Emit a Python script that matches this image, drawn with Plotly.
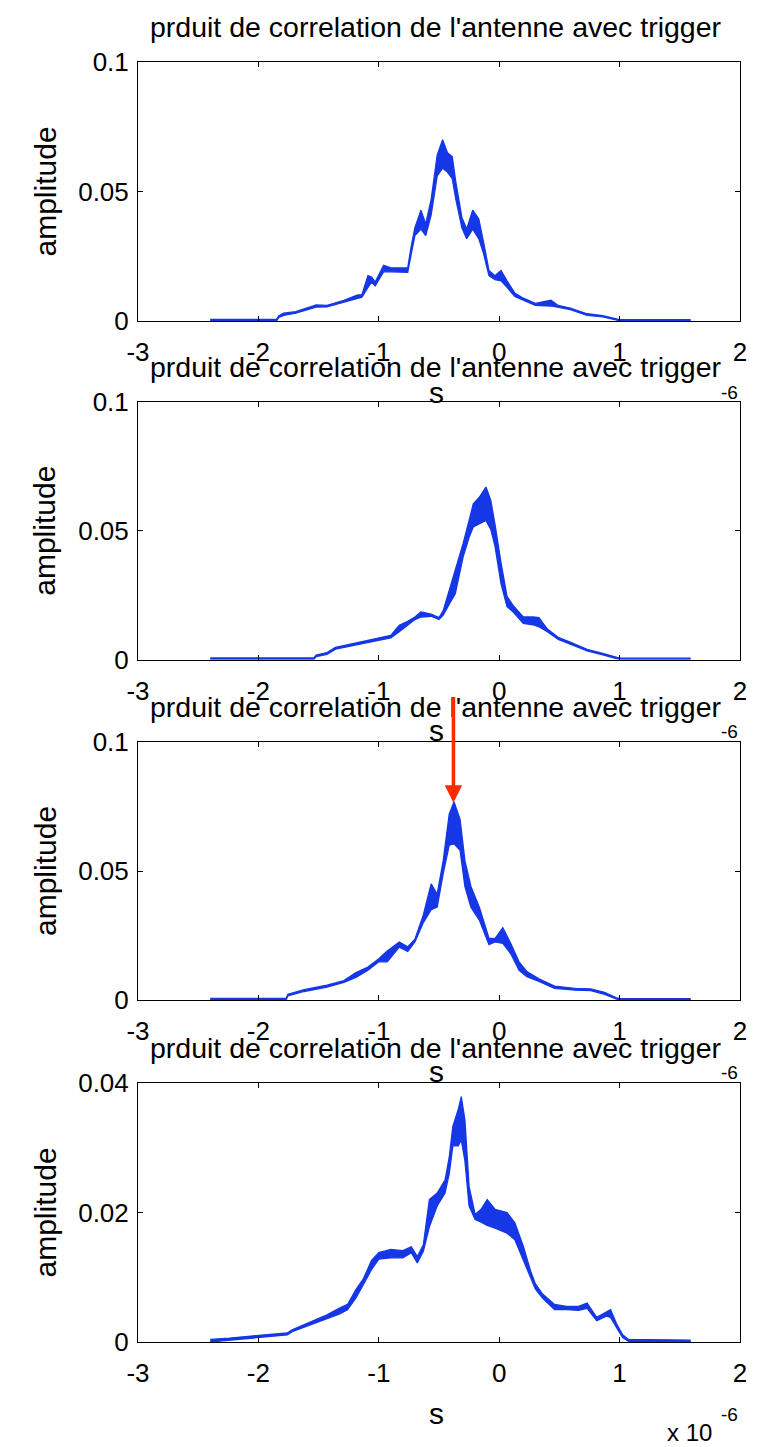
import plotly.graph_objects as go

# ---------------- data (x in units of 1e-6 s) ----------------
title_text = "prduit de correlation de l'antenne avec trigger"
x_tickvals = [-3, -2, -1, 0, 1, 2]
x_ticktext = ["-3", "-2", "-1", "0", "1", "2"]
y_tickvals_a = [0, 0.05, 0.1]
y_ticktext_a = ["0", "0.05", "0.1"]
y_tickvals_b = [0, 0.02, 0.04]
y_ticktext_b = ["0", "0.02", "0.04"]

x1 = [-2.40, -1.85, -1.83, -1.79, -1.69, -1.62, -1.52, -1.43, -1.29, -1.18, -1.14, -1.09, -1.06, -1.03,
      -0.96, -0.90, -0.76, -0.73, -0.70, -0.65, -0.61, -0.565, -0.515, -0.47, -0.43, -0.39, -0.36, -0.31,
      -0.27, -0.22, -0.17, -0.13, -0.085, -0.035, 0.015, 0.065, 0.13, 0.20, 0.30, 0.43, 0.49, 0.59, 0.73,
      0.86, 0.97, 1.00, 1.59]
hi1 = [0.0006, 0.0006, 0.0020, 0.0030, 0.0036, 0.0047, 0.0062, 0.0060, 0.0080, 0.0100, 0.0102, 0.0175,
       0.0170, 0.0150, 0.0215, 0.0205, 0.0205, 0.0290, 0.0360, 0.0428, 0.0375, 0.0470, 0.0640, 0.0700,
       0.0650, 0.0635, 0.0535, 0.0400, 0.0355, 0.0428, 0.0395, 0.0305, 0.0195, 0.0175, 0.0195, 0.0155,
       0.0108, 0.0088, 0.0068, 0.0080, 0.0060, 0.0050, 0.0028, 0.0021, 0.0009, 0.0005, 0.0005]
lo1 = [0, 0, 0.0014, 0.0022, 0.0030, 0.0040, 0.0054, 0.0055, 0.0074, 0.0088, 0.0092, 0.0130, 0.0150,
       0.0135, 0.0190, 0.0190, 0.0188, 0.0260, 0.0330, 0.0355, 0.0330, 0.0410, 0.0560, 0.0590, 0.0575,
       0.0550, 0.0470, 0.0360, 0.0318, 0.0355, 0.0318, 0.0260, 0.0175, 0.0160, 0.0155, 0.0130, 0.0095,
       0.0080, 0.0060, 0.0058, 0.0052, 0.0044, 0.0022, 0.0016, 0.0004, 0, 0]

x2 = [-2.40, -1.54, -1.52, -1.43, -1.36, -1.23, -1.09, -0.96, -0.90, -0.83, -0.76, -0.70, -0.65, -0.565,
      -0.50, -0.465, -0.415, -0.365, -0.30, -0.25, -0.215, -0.165, -0.11, -0.07, -0.035, 0.015, 0.065,
      0.115, 0.20, 0.28, 0.33, 0.40, 0.49, 0.59, 0.73, 0.86, 0.97, 1.00, 1.59]
hi2 = [0.0006, 0.0006, 0.0017, 0.0027, 0.0047, 0.0060, 0.0073, 0.0088, 0.0094, 0.0133, 0.0148, 0.0165,
       0.0185, 0.0176, 0.0163, 0.0190, 0.0270, 0.0345, 0.0450, 0.0540, 0.0605, 0.0630, 0.0670, 0.0618,
       0.0525, 0.0375, 0.0245, 0.0210, 0.0165, 0.0165, 0.0163, 0.0118, 0.0086, 0.0068, 0.0039, 0.0024,
       0.0010, 0.0005, 0.0005]
lo2 = [0, 0, 0.0011, 0.0020, 0.0040, 0.0052, 0.0066, 0.0077, 0.0084, 0.0108, 0.0135, 0.0155, 0.0165,
       0.0168, 0.0155, 0.0172, 0.0215, 0.0255, 0.0398, 0.0475, 0.0515, 0.0528, 0.0540, 0.0505, 0.0440,
       0.0295, 0.0205, 0.0185, 0.0140, 0.0135, 0.0127, 0.0108, 0.0078, 0.0060, 0.0033, 0.0018, 0.0005,
       0, 0]

x3 = [-2.40, -1.77, -1.755, -1.62, -1.43, -1.29, -1.19, -1.09, -1.00, -0.93, -0.83, -0.76, -0.70, -0.63,
      -0.565, -0.515, -0.465, -0.415, -0.375, -0.325, -0.285, -0.235, -0.165, -0.085, -0.035, 0.03,
      0.095, 0.165, 0.23, 0.33, 0.46, 0.63, 0.76, 0.875, 0.97, 1.00, 1.59]
hi3 = [0.0006, 0.0006, 0.0022, 0.0040, 0.0058, 0.0075, 0.0106, 0.0128, 0.0160, 0.0190, 0.0225, 0.0206,
       0.0236, 0.0330, 0.0450, 0.0410, 0.0540, 0.0720, 0.0768, 0.0700, 0.0540, 0.0440, 0.0360, 0.0240,
       0.0238, 0.0280, 0.0220, 0.0148, 0.0110, 0.0082, 0.0054, 0.0045, 0.0043, 0.0030, 0.0009, 0.0005,
       0.0005]
lo3 = [0, 0, 0.0016, 0.0033, 0.0050, 0.0068, 0.0088, 0.0115, 0.0148, 0.0148, 0.0205, 0.0188, 0.0225,
       0.0300, 0.0350, 0.0360, 0.0490, 0.0600, 0.0605, 0.0580, 0.0440, 0.0360, 0.0310, 0.0215, 0.0225,
       0.0220, 0.0180, 0.0115, 0.0090, 0.0072, 0.0045, 0.0038, 0.0036, 0.0022, 0.0004, 0, 0]

x4 = [-2.40, -2.24, -2.02, -1.76, -1.72, -1.62, -1.52, -1.43, -1.33, -1.26, -1.19, -1.13, -1.06, -1.00,
      -0.90, -0.80, -0.73, -0.68, -0.63, -0.58, -0.515, -0.45, -0.415, -0.385, -0.34, -0.315, -0.285,
      -0.25, -0.20, -0.15, -0.10, -0.035, 0.065, 0.13, 0.20, 0.26, 0.30, 0.36, 0.46, 0.56, 0.66, 0.73,
      0.81, 0.89, 0.925, 0.975, 1.025, 1.075, 1.59]
hi4 = [0.0004, 0.0006, 0.0010, 0.0014, 0.0019, 0.0027, 0.0034, 0.0042, 0.0052, 0.0058, 0.0081, 0.0097,
       0.0126, 0.0138, 0.0143, 0.0141, 0.0147, 0.0132, 0.0150, 0.0220, 0.0230, 0.0250, 0.0285, 0.0333,
       0.0359, 0.0379, 0.0343, 0.0240, 0.0197, 0.0205, 0.0220, 0.0205, 0.0200, 0.0184, 0.0148, 0.0110,
       0.0090, 0.0074, 0.0058, 0.0055, 0.0055, 0.0060, 0.0038, 0.0047, 0.0050, 0.0028, 0.0011, 0.0004,
       0.0003]
lo4 = [0, 0.0003, 0.0007, 0.0011, 0.0016, 0.0023, 0.0030, 0.0037, 0.0043, 0.0050, 0.0068, 0.0088,
       0.0112, 0.0128, 0.0130, 0.0130, 0.0138, 0.0122, 0.0140, 0.0178, 0.0210, 0.0230, 0.0260, 0.0303,
       0.0303, 0.0312, 0.0280, 0.0210, 0.0189, 0.0185, 0.0180, 0.0176, 0.0168, 0.0158, 0.0127, 0.0100,
       0.0082, 0.0068, 0.0050, 0.0050, 0.0049, 0.0052, 0.0033, 0.0040, 0.0038, 0.0022, 0.0007, 0.0001, 0]

# arrow marking the peak of the third panel (data coords of panel 3)
arrow_x = -0.38
arrow_tip_y = 0.0765
arrow_tail_y = 0.118

# ---------------- figure ----------------
OFF = 8  # page body margin of the browser
W, H = 766 - OFF, 1447 - OFF
ML, MR, MT, MB = 138 - OFF, 26, 62 - OFF, 105
PH = H - MT - MB  # 1280
PW = W - ML - MR  # 602
FONT = "Liberation Sans, Arial, Helvetica, sans-serif"
BLUE = "#1537e6"


def py(pix):
    """reference page pixel (from top) -> paper fraction"""
    return (H - MB - (pix - OFF)) / PH


def px(pix):
    """reference page pixel (from left) -> paper fraction"""
    return (pix - OFF - ML) / PW


panels = [
    dict(x=x1, lo=lo1, hi=hi1, top=62, bot=321, yr=[0, 0.1], tv=y_tickvals_a, tt=y_ticktext_a),
    dict(x=x2, lo=lo2, hi=hi2, top=402, bot=659.5, yr=[0, 0.1], tv=y_tickvals_a, tt=y_ticktext_a),
    dict(x=x3, lo=lo3, hi=hi3, top=742, bot=1000, yr=[0, 0.1], tv=y_tickvals_a, tt=y_ticktext_a),
    dict(x=x4, lo=lo4, hi=hi4, top=1083, bot=1342, yr=[0, 0.04], tv=y_tickvals_b, tt=y_ticktext_b),
]

fig = go.Figure()
layout = dict(
    width=W, height=H,
    margin=dict(l=ML, r=MR, t=MT, b=MB, pad=0),
    paper_bgcolor="white", plot_bgcolor="white",
    showlegend=False,
    font=dict(family=FONT, color="black"),
)
annotations = []

for i, p in enumerate(panels, start=1):
    xa = "x" if i == 1 else f"x{i}"
    ya = "y" if i == 1 else f"y{i}"
    fig.add_trace(go.Scatter(x=p["x"], y=p["lo"], mode="lines", xaxis=xa, yaxis=ya,
                             line=dict(color=BLUE, width=1.3), hoverinfo="skip"))
    fig.add_trace(go.Scatter(x=p["x"], y=p["hi"], mode="lines", xaxis=xa, yaxis=ya, fill="tonexty",
                             fillcolor=BLUE, line=dict(color=BLUE, width=1.3), hoverinfo="skip"))
    axis_common = dict(showline=True, linecolor="black", linewidth=1, mirror="allticks",
                       ticks="inside", ticklen=5, tickwidth=1, tickcolor="black",
                       showgrid=False, zeroline=False,
                       tickfont=dict(family=FONT, size=26, color="black"))
    layout["xaxis" if i == 1 else f"xaxis{i}"] = dict(
        domain=[0, 1], range=[-3, 2], anchor=ya, tickmode="array",
        tickvals=x_tickvals, ticktext=x_ticktext, ticklabelstandoff=8, **axis_common)
    layout["yaxis" if i == 1 else f"yaxis{i}"] = dict(
        domain=[py(p["bot"]), py(p["top"])], range=p["yr"], anchor=xa, tickmode="array",
        tickvals=p["tv"], ticktext=p["tt"], ticklabelstandoff=3, **axis_common)

    # title
    annotations.append(dict(text=title_text, xref="paper", yref="paper", x=px(436), y=py(p["top"] - 35),
                            xanchor="center", yanchor="middle", showarrow=False,
                            font=dict(family=FONT, size=28.5, color="black")))
    # y label
    annotations.append(dict(text="amplitude", xref="paper", yref="paper", x=px(45),
                            y=py((p["top"] + p["bot"]) / 2), textangle=-90,
                            xanchor="center", yanchor="middle", showarrow=False,
                            font=dict(family=FONT, size=30, color="black")))
    # x label
    annotations.append(dict(text="s", xref="paper", yref="paper", x=px(436), y=py(p["bot"] + 71),
                            xanchor="center", yanchor="middle", showarrow=False,
                            font=dict(family=FONT, size=30, color="black")))
    # exponent
    annotations.append(dict(text="-6", xref="paper", yref="paper", x=px(729), y=py(p["bot"] + 72),
                            xanchor="center", yanchor="middle", showarrow=False,
                            font=dict(family=FONT, size=19, color="black")))

annotations.append(dict(text="x 10", xref="paper", yref="paper", x=px(689), y=py(1432),
                        xanchor="center", yanchor="middle", showarrow=False,
                        font=dict(family=FONT, size=24, color="black")))

annotations.append(dict(text="", x=arrow_x, y=arrow_tip_y, xref="x3", yref="y3",
                        ax=arrow_x, ay=arrow_tail_y, axref="x3", ayref="y3",
                        showarrow=True, arrowhead=2, arrowsize=1, arrowwidth=3.5,
                        arrowcolor="#ff2a00", standoff=0))

layout["annotations"] = annotations
fig.update_layout(**layout)
fig.write_html("out.html")
